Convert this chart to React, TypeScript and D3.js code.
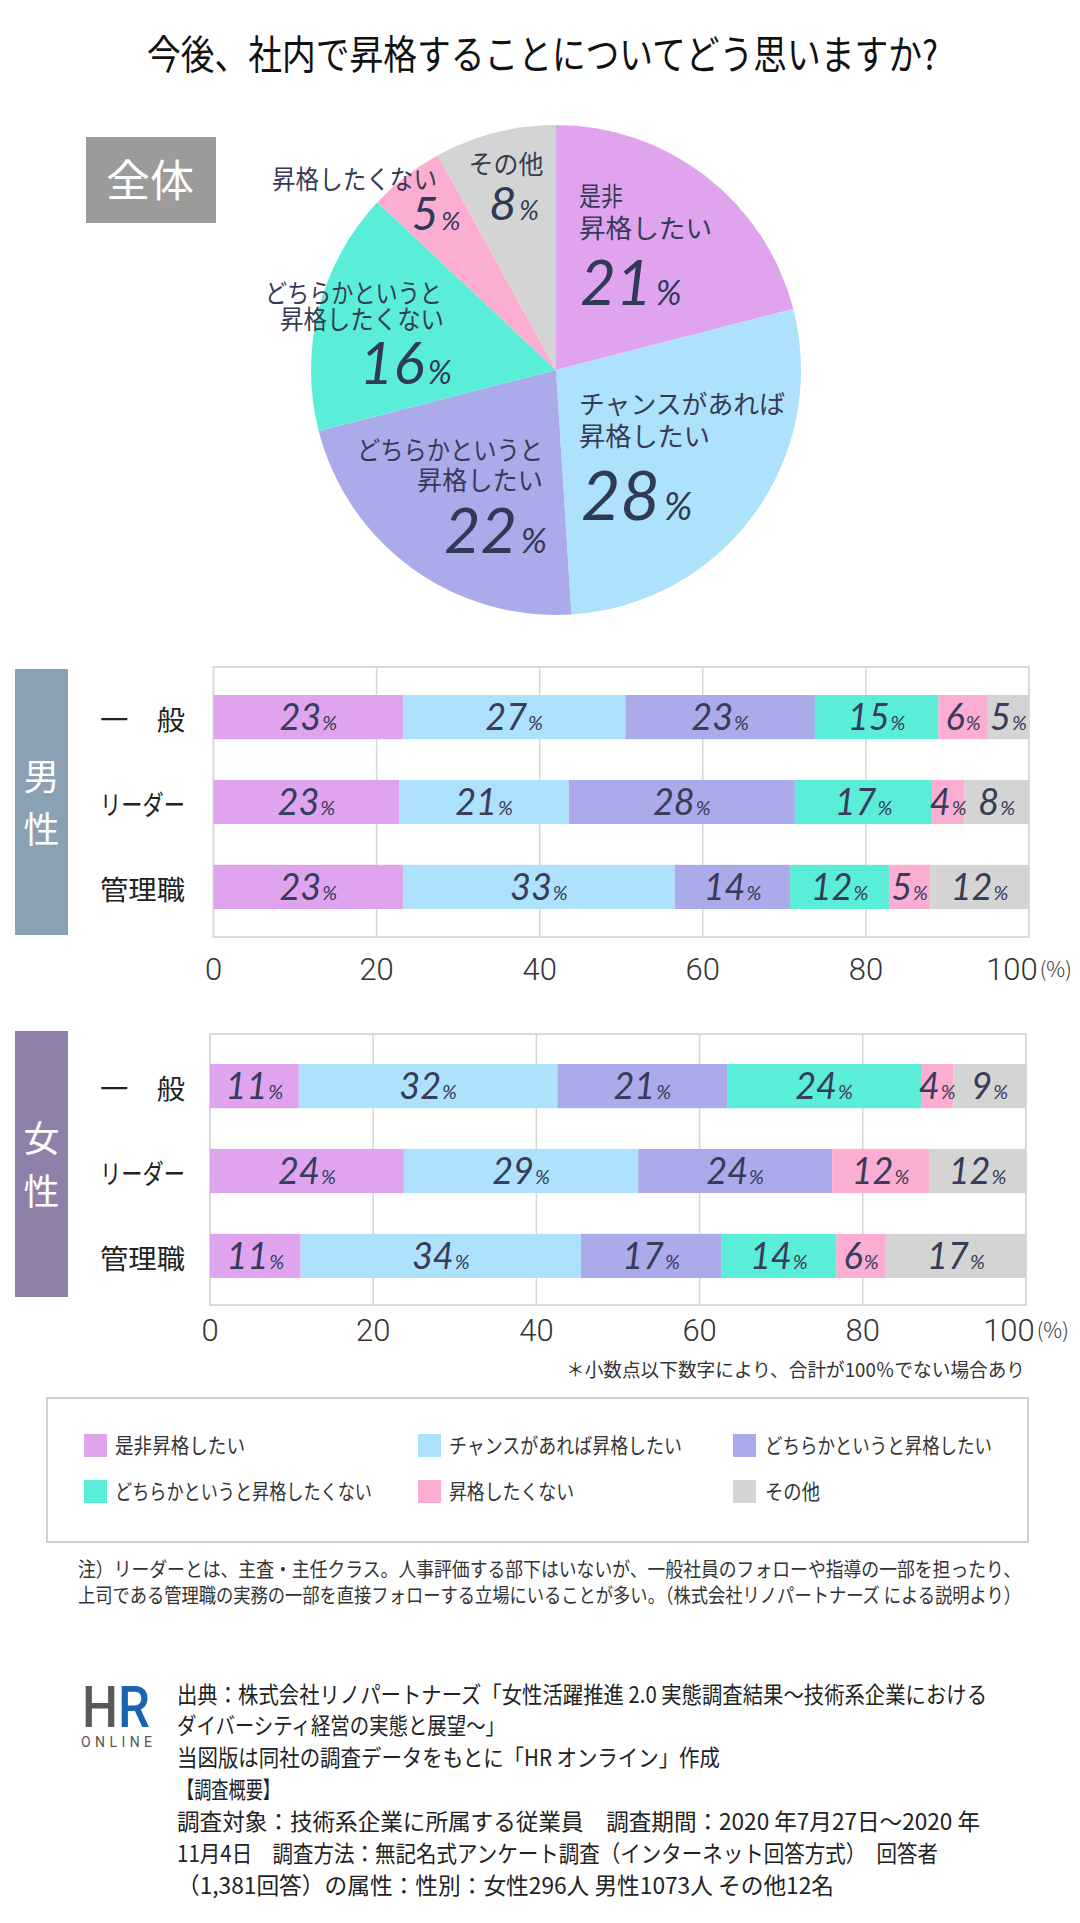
import React from 'react';
import * as d3 from 'd3';

// ---------- data ----------
const categories = [
  '是非昇格したい',
  'チャンスがあれば昇格したい',
  'どちらかというと昇格したい',
  'どちらかというと昇格したくない',
  '昇格したくない',
  'その他',
];
const overallValues = [21, 28, 22, 16, 5, 8];
const pieLabelLines = [
  ['是非', '昇格したい'],
  ['チャンスがあれば', '昇格したい'],
  ['どちらかというと', '昇格したい'],
  ['どちらかというと', '昇格したくない'],
  ['昇格したくない'],
  ['その他'],
];
const rowLabels = ['一　般', 'リーダー', '管理職'];
const maleValues = [
  [23, 27, 23, 15, 6, 5],
  [23, 21, 28, 17, 4, 8],
  [23, 33, 14, 12, 5, 12],
];
const femaleValues = [
  [11, 32, 21, 24, 4, 9],
  [24, 29, 24, 0, 12, 12],
  [11, 34, 17, 14, 6, 17],
];
const xTicks = [0, 20, 40, 60, 80, 100];

const titleText = '今後、社内で昇格することについてどう思いますか?';
const footnoteText = '＊小数点以下数字により、合計が100％でない場合あり';
const noteLines = [
  '注）リーダーとは、主査・主任クラス。人事評価する部下はいないが、一般社員のフォローや指導の一部を担ったり、',
  '上司である管理職の実務の一部を直接フォローする立場にいることが多い。（株式会社リノパートナーズ による説明より）',
];
const footerLines = [
  '出典：株式会社リノパートナーズ「女性活躍推進 2.0 実態調査結果～技術系企業における',
  'ダイバーシティ経営の実態と展望～」',
  '当図版は同社の調査データをもとに「HR オンライン」作成',
  '【調査概要】',
  '調査対象：技術系企業に所属する従業員　調査期間：2020 年7月27日～2020 年',
  '11月4日　調査方法：無記名式アンケート調査（インターネット回答方式）　回答者',
  '（1,381回答）の属性：性別：女性296人 男性1073人 その他12名',
];

// ---------- styles ----------
const colors = ['#e0a4ee', '#aee1fb', '#abaaeb', '#5aeed8', '#fcaed2', '#d4d4d4'];
const JP = '"Noto Sans CJK JP", "Noto Sans", sans-serif';
const NUM = 'Lato, "Open Sans", sans-serif';
const NAVY = '#363c5a';

const pieLayout = [
  { lines: [{ x: 579, y: 206, w: 44, a: 'start' }, { x: 579, y: 238, w: 133, a: 'start' }], num: { x: 580, y: 305, s: 62, a: 'start' } },
  { lines: [{ x: 579, y: 414, w: 206, a: 'start' }, { x: 579, y: 446, w: 131, a: 'start' }], num: { x: 581, y: 520, s: 68, a: 'start' } },
  { lines: [{ x: 543, y: 460, w: 186, a: 'end' }, { x: 543, y: 490, w: 126, a: 'end' }], num: { x: 547, y: 553, s: 63, a: 'end' } },
  { lines: [{ x: 442, y: 303, w: 177, a: 'end' }, { x: 444, y: 329, w: 164, a: 'end' }], num: { x: 452, y: 384, s: 58, a: 'end' } },
  { lines: [{ x: 437, y: 189, w: 165, a: 'end' }], num: { x: 436, y: 230, s: 46, a: 'middle' } },
  { lines: [{ x: 506, y: 174, w: 75, a: 'middle' }], num: { x: 514, y: 220, s: 47, a: 'middle' } },
];

type Panel = {
  values: number[][];
  left: number; right: number; top: number; bottom: number;
  bandTop: number; bandBottom: number;
  sideLabel: [string, string]; sideColor: string; sideTop: number;
  tickY: number;
};

const panels: Panel[] = [
  { values: maleValues, left: 213.5, right: 1029, top: 667, bottom: 937, bandTop: 667, bandBottom: 937,
    sideLabel: ['男', '性'], sideColor: '#8aa0b3', sideTop: 669, tickY: 980 },
  { values: femaleValues, left: 210, right: 1026, top: 1034, bottom: 1305, bandTop: 1036, bandBottom: 1306,
    sideLabel: ['女', '性'], sideColor: '#8f80aa', sideTop: 1031, tickY: 1341 },
];

const legendText = [130, 233, 227, 257, 125, 55];

function BarPanel({ p }: { p: Panel }) {
  const x = d3.scaleLinear().domain([0, 100]).range([p.left, p.right]);
  const y = d3.scaleBand<string>().domain(rowLabels).range([p.bandTop, p.bandBottom]).paddingInner(0.48).paddingOuter(0.33);
  const bw = y.bandwidth();
  return (
    <g>
      <rect x={15} y={p.sideTop} width={53} height={266} fill={p.sideColor} />
      <text x={41.5} y={p.sideTop + 121} fontFamily={JP} fontSize={36} fill="#fff" textAnchor="middle">{p.sideLabel[0]}</text>
      <text x={41.5} y={p.sideTop + 174} fontFamily={JP} fontSize={36} fill="#fff" textAnchor="middle">{p.sideLabel[1]}</text>
      <rect x={p.left} y={p.top} width={p.right - p.left} height={p.bottom - p.top} fill="#fff" stroke="#d9d9d9" strokeWidth={2} />
      {xTicks.slice(1, -1).map((t) => (
        <line key={t} x1={x(t)} x2={x(t)} y1={p.top} y2={p.bottom} stroke="#d6d6d6" strokeWidth={1.5} />
      ))}
      {p.values.map((row, ri) => {
        const total = d3.sum(row);
        const cum = d3.cumsum(row.map((v) => (v / total) * 100));
        const yy = y(rowLabels[ri]) as number;
        const cy = yy + bw / 2;
        return (
          <g key={ri}>
            <text x={100} y={cy + 13} fontFamily={JP} fontSize={27} fill="#222" textLength={85} lengthAdjust="spacingAndGlyphs">{rowLabels[ri]}</text>
            {row.map((v, ci) => {
              const x0 = x(ci === 0 ? 0 : cum[ci - 1]);
              const x1 = x(cum[ci]);
              if (v === 0) return null;
              return <rect key={ci} x={x0} y={yy} width={x1 - x0} height={bw} fill={colors[ci]} />;
            })}
            {row.map((v, ci) => {
              if (v === 0) return null;
              const x0 = x(ci === 0 ? 0 : cum[ci - 1]);
              const x1 = x(cum[ci]);
              return (
                <text key={'l' + ci} x={(x0 + x1) / 2} y={cy + 13} textAnchor="middle" fontFamily={NUM} fontStyle="italic" fill={NAVY}>
                  <tspan fontSize={36}>{v}</tspan>
                  <tspan fontSize={20} dx={1}>%</tspan>
                </text>
              );
            })}
          </g>
        );
      })}
      {xTicks.map((t) => (
        <text key={t} x={x(t)} y={p.tickY} textAnchor="middle" fontFamily="Roboto, sans-serif" fontWeight={300} fill="#333">
          <tspan fontSize={31}>{t}</tspan>
          {t === 100 ? <tspan fontSize={21} fontFamily={JP} dx={2} dy={-3}>(%)</tspan> : null}
        </text>
      ))}
    </g>
  );
}

export default function App() {
  const cx = 556, cy = 370, r = 245;
  const pieGen = d3.pie<number>().sort(null).value((d) => d);
  const arcGen = d3.arc<d3.PieArcDatum<number>>().innerRadius(0).outerRadius(r);
  const arcs = pieGen(overallValues);

  return (
    <svg width={1080} height={1923} viewBox="0 0 1080 1923" style={{ position: 'absolute', left: 0, top: 0, background: '#fff' }}>
      <rect x={0} y={0} width={1080} height={1923} fill="#fff" />
      <text x={147} y={69} fontFamily={JP} fontSize={40} fill="#111" textLength={791} lengthAdjust="spacingAndGlyphs">{titleText}</text>

      <rect x={86} y={137} width={130} height={86} fill="#9b9b9b" />
      <text x={150} y={197} fontFamily={JP} fontSize={44} fill="#fff" textAnchor="middle">全体</text>

      <g transform={`translate(${cx},${cy})`}>
        {arcs.map((a, i) => (
          <path key={i} d={arcGen(a) as string} fill={colors[i]} />
        ))}
      </g>
      {pieLayout.map((L, i) => (
        <g key={i}>
          {L.lines.map((ln, li) => (
            <text key={li} x={ln.x} y={ln.y} textAnchor={ln.a as any} fontFamily={JP} fontSize={26} fill="#353b55"
              textLength={ln.w} lengthAdjust="spacingAndGlyphs">{pieLabelLines[i][li]}</text>
          ))}
          <text x={L.num.x} y={L.num.y} textAnchor={L.num.a as any} fontFamily={NUM} fontStyle="italic" fill="#2f3a56">
            <tspan fontSize={L.num.s}>{overallValues[i]}</tspan>
            <tspan fontSize={L.num.s * 0.56} dx={L.num.s * 0.06}>%</tspan>
          </text>
        </g>
      ))}

      {panels.map((p, i) => <BarPanel key={i} p={p} />)}

      <text x={566} y={1377} fontFamily={JP} fontSize={19} fill="#333" textLength={459} lengthAdjust="spacingAndGlyphs">{footnoteText}</text>

      <rect x={47} y={1398} width={981} height={144} fill="#fff" stroke="#cfcfcf" strokeWidth={2} />
      {categories.map((c, i) => {
        const col = i % 3, row = Math.floor(i / 3);
        const sx = [84, 418, 733][col];
        const tx = [115, 449, 765][col];
        const sy = [1434, 1480][row];
        return (
          <g key={c}>
            <rect x={sx} y={sy} width={23} height={23} fill={colors[i]} />
            <text x={tx} y={sy + 19} fontFamily={JP} fontSize={21} fill="#333" textLength={legendText[i]} lengthAdjust="spacingAndGlyphs">{c}</text>
          </g>
        );
      })}

      {noteLines.map((t, i) => (
        <text key={i} x={78} y={1577 + i * 26} fontFamily={JP} fontSize={20} fill="#333" textLength={943} lengthAdjust="spacingAndGlyphs">{t}</text>
      ))}

      <text x={82} y={1727} fontFamily="Roboto, sans-serif" fontWeight={500} fontSize={58} textLength={68} lengthAdjust="spacingAndGlyphs">
        <tspan fill="#58595b">H</tspan><tspan fill="#1b64b0">R</tspan>
      </text>
      <text x={81} y={1747} fontFamily="Roboto, sans-serif" fontSize={14} fill="#555" textLength={71} lengthAdjust="spacing">ONLINE</text>

      {footerLines.map((t, i) => {
        const widths = [810, 328, 543, 103, 803, 761, 657];
        const ys = [1703, 1734, 1766, 1798, 1830, 1862, 1894];
        return (
          <text key={i} x={177} y={ys[i]} fontFamily={JP} fontSize={23} fill="#222" textLength={widths[i]} lengthAdjust="spacingAndGlyphs">{t}</text>
        );
      })}
    </svg>
  );
}
